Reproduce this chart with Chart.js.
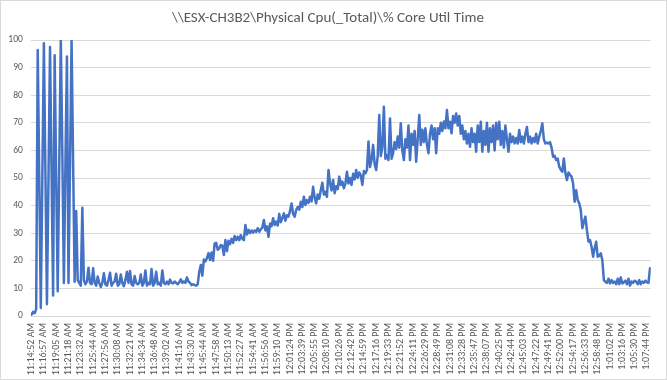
<!DOCTYPE html>
<html><head><meta charset="utf-8">
<script src="https://cdn.jsdelivr.net/npm/chart.js@4.4.1/dist/chart.umd.min.js"></script>
<style>
html,body{margin:0;padding:0;background:#fff;}
#wrap{width:667px;height:380px;box-sizing:border-box;border:1px solid #d9d9d9;position:relative;background:#fff;}
canvas{display:block;}
</style></head><body>
<div id="wrap"><canvas id="c"></canvas></div>
<script>
const chartTitle = "\\\\ESX-CH3B2\\Physical Cpu(_Total)\\% Core Util Time";
const tickLabels = ["11:14:52 AM","11:16:57 AM","11:19:05 AM","11:21:18 AM","11:23:32 AM","11:25:44 AM","11:27:56 AM","11:30:08 AM","11:32:21 AM","11:34:34 AM","11:36:48 AM","11:39:02 AM","11:41:16 AM","11:43:30 AM","11:45:44 AM","11:47:58 AM","11:50:13 AM","11:52:27 AM","11:54:41 AM","11:56:56 AM","11:59:10 AM","12:01:24 PM","12:03:39 PM","12:05:55 PM","12:08:10 PM","12:10:26 PM","12:12:42 PM","12:14:59 PM","12:17:16 PM","12:19:33 PM","12:21:52 PM","12:24:11 PM","12:26:29 PM","12:28:49 PM","12:31:08 PM","12:33:28 PM","12:35:47 PM","12:38:07 PM","12:40:25 PM","12:42:44 PM","12:45:03 PM","12:47:22 PM","12:49:41 PM","12:52:00 PM","12:54:17 PM","12:56:33 PM","12:58:48 PM","1:01:02 PM","1:03:16 PM","1:05:30 PM","1:07:44 PM"];
const pointsPerLabel = 8;

const cpuStartup = [0.5,1.5,1,2.5,96.4,50,2.9,50,98.8,52,
4.3,50,97.5,52,7.4,94.5,50,9,55,100,
59,12,55,94,12,55,100,56,12.4,38,
13,12,11,39.2,13,11.5];
const cpuIdle = [12.5,17.5,12,11.5,17.3,12,11,14.3,12,10.5,
12,15.5,11.5,11,13,15.7,11,12,12.5,15.3,
11,11.5,15,12,10.8,13,16,12,16.3,11.5,
11,14.5,12,11.5,12,15,11,12,16.5,11,
12,11.5,17,11,12,16,11.5,12,11,16.5,
12,11.5,
12.5,11.5,13.2,12,11.8,12.5,12,11.5,12.2,13.3,
12,12.5,12,14,12.5,12,11.2,11.5,11.2,11,
11.5];
const cpuRampUp = [16,18.5,14.6,20.5,19.8,21,22.8,20.3,23,20,
26.3,26.5,24,24.5,25.7,25.5,22.1,27.5,23.5,27.3,
26,28,26.5,29,27.5,28.7,27.5,29.3,28,27.5,
33,29.5,31.2,30,31,30.2,31,30.5,31.8,30.5,
31.5,32,34.8,31,32.5,28.7,33.5,32.5,35.4,33,
34.2,32.8,37,34,35.5,37.2,34.5,36.5,36,38,
40.8,37,36,38.4,39.5,38.5,41.4,39.5,43.2,40.2,
42,41,43.2,41.5,46.8,43,40.8,44,42.5,45.6,
48.3,44,45,43.2,52.9,48,45.5,49.3,44.5,47,
46,50.5,47.5,48.7,46.3,48,52.3,48,50,47.5,
51.5,49.5,52.9,50,52,51,47.5,52.5,51.7,52.9,
63.2,54,56.5,62,55,52.9,58,72.8,58,61,
75.8,57,58.3,56.5,71.6,57,59];
const cpuPlateau = [63,60.5,65,61,69.8,60,56.5,64,61,69,
56.5,66,62,67,55.9,64,72.8,62,67.5,63,
68,62,59,66,69,64,68,59,68,66,
70,67,70.5,68,74.6,
68,70.4,66.2,72.5,70,73.4,69,72.5,66,69,
64,67,62.5,66,61.3,68,63,66,59.5,69,
63,70.4,59.5,67,62,70,59.5,68,63,69,
60,70,64,70.4,62,67,61,69,64,59.5,
66,63,65,62.5,64.5,62.5,67.4,63,65,62.5,
66,68.5,63,65,62.5,64.5,63,66,62.5,65,
67,69.8,64,62.5];
const cpuRampDown = [62.8,62.5,63,61,57.7,58,56.5,57,54.1,53,
52.3,57.1,51.7,49.3,52,51.1,50.5,48,41.4,45.6,
42,40.8,38.4,31.8,34,36,31,27,27.5,25.1,
21.5,24.5,26.9,21.5,21.8,22.7,20.3,13,12.4,12,
13.5,11.8,13,12,12.5,11.5,13.5,11.5,14,11.8,
12.2,12.8,11.5,13.5,11,12.5,12,12.8,12.5,11.5,
13,11.5,12.5,12,12.8,12.2,12,17.3];
const cpuValues = [].concat(cpuStartup, cpuIdle, cpuRampUp, cpuPlateau, cpuRampDown);

const FONT = "Carlito, Lato, 'Noto Sans', sans-serif";
const TEXT = '#595959';

new Chart(document.getElementById('c'), {
  type: 'line',
  data: { datasets: [{
    data: cpuValues.map((v, i) => ({ x: i, y: v })),
    borderColor: '#4472C4', borderWidth: 2.5, pointRadius: 0, tension: 0, fill: false,
    borderJoinStyle: 'round', borderCapStyle: 'round'
  }]},
  options: {
    responsive: true, maintainAspectRatio: false, animation: false,
    layout: { padding: { left: 0, right: 11, top: 0, bottom: 0 } },
    plugins: {
      legend: { display: false }, tooltip: { enabled: false },
      title: { display: true, text: chartTitle, color: TEXT,
        font: { family: FONT, size: 15, weight: 'normal' }, padding: { top: 8, bottom: 13 } }
    },
    scales: {
      x: {
        type: 'linear', min: -0.5, max: cpuValues.length - 0.5,
        grid: { display: false, drawTicks: false }, border: { display: false },
        afterBuildTicks(s) { s.ticks = tickLabels.map((_, k) => ({ value: k * pointsPerLabel })); },
        afterFit(s) { s.height = 63; },
        ticks: { autoSkip: false, maxRotation: 90, minRotation: 90, padding: 7, color: TEXT,
          font: { family: FONT, size: 10 },
          callback: (v) => tickLabels[Math.round(v / pointsPerLabel)] }
      },
      y: {
        min: 0, max: 100,
        ticks: { stepSize: 10, color: TEXT, font: { family: FONT, size: 9.5 }, padding: 8 },
        grid: { color: '#d9d9d9', drawTicks: false }, border: { display: false },
        afterFit(s) { s.width = 29.8; }
      }
    }
  }
});
</script>
</body></html>
